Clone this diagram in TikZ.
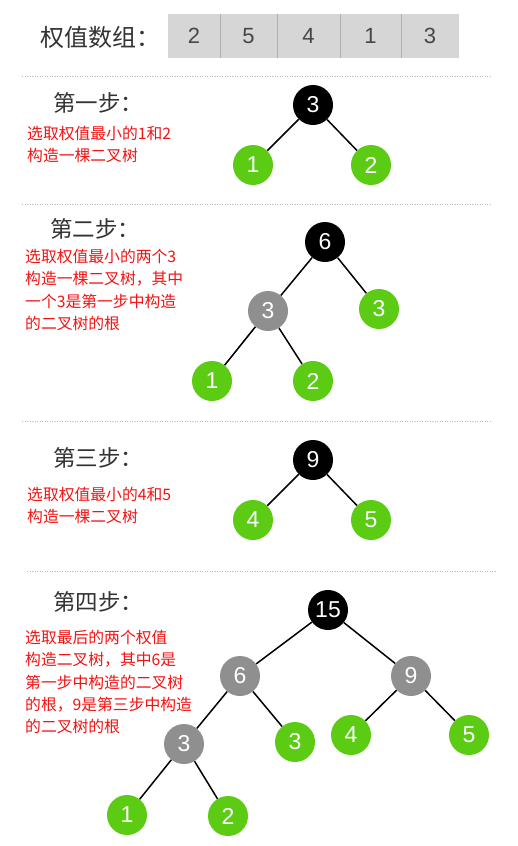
\documentclass[tikz,border=0pt]{standalone}
\usepackage{fontspec}
\setmainfont{Noto Sans CJK SC}
\newfontfamily\numfont{Liberation Sans}
\definecolor{leafgreen}{HTML}{5BCB14}
\definecolor{midgray}{HTML}{8F8F8F}
\definecolor{redtxt}{HTML}{F21313}
\definecolor{headtxt}{HTML}{333333}
\definecolor{cellgray}{HTML}{D6D6D6}
\definecolor{cellline}{HTML}{B0B0B0}
\begin{document}
\begin{tikzpicture}[x=1pt,y=-1pt,
  tnode/.style={circle,minimum size=40pt,inner sep=0pt,text=white,font=\numfont\fontsize{23}{23}\selectfont},
  leaf/.style={tnode,fill=leafgreen},
  mid/.style={tnode,fill=midgray},
  root/.style={tnode,fill=black},
  edge/.style={line width=1.5pt,black},
  sep/.style={draw=gray!55,line width=1pt,dash pattern=on 1.2pt off 1.3pt},
  head/.style={anchor=west,text=headtxt,font=\fontsize{22.5}{24}\selectfont,inner sep=0pt},
  note/.style={anchor=north west,align=left,text=redtxt,font=\fontsize{15.8}{22.3}\selectfont,inner sep=0pt},
  cell/.style={fill=cellgray,draw=none,minimum height=44pt,inner sep=0pt,text=headtxt!90,font=\numfont\fontsize{22}{22}\selectfont}
]
\useasboundingbox (0,0) rectangle (517,846);
\fill[white] (0,0) rectangle (517,846);

% array
\node[anchor=west,text=headtxt,font=\fontsize{24}{26}\selectfont,inner sep=0pt] (title) at (40,37) {权值数组：};
\node[cell,minimum width=52pt] (c1) at (194,36) {2};
\node[cell,minimum width=57pt] (c2) at (248.5,36) {5};
\node[cell,minimum width=63pt] (c3) at (308.5,36) {4};
\node[cell,minimum width=61pt] (c4) at (370.5,36) {1};
\node[cell,minimum width=58pt] (c5) at (430,36) {3};
\foreach \a/\b in {c1/c2,c2/c3,c3/c4,c4/c5}
  \draw[cellline,line width=1.2pt] (\a.north east) -- (\a.south east);

% separators
\coordinate (s1a) at (22,76); \coordinate (s1b) at (490,76);
\coordinate (s2a) at (22,204); \coordinate (s2b) at (490,204);
\coordinate (s3a) at (22,421); \coordinate (s3b) at (492,421);
\coordinate (s4a) at (27,571); \coordinate (s4b) at (497,571);
\draw[sep] (s1a) -- (s1b);
\draw[sep] (s2a) -- (s2b);
\draw[sep] (s3a) -- (s3b);
\draw[sep] (s4a) -- (s4b);

% step 1
\node[head] (h1) at (53,103) {第一步：};
\node[note] (n1) at (27,126) {选取权值最小的1和2\\构造一棵二叉树};
\node[root] (a3) at (313,105) {3};
\node[leaf] (a1) at (253,165) {1};
\node[leaf] (a2) at (371,165) {2};
\draw[edge] (a3) -- (a1);
\draw[edge] (a3) -- (a2);

% step 2
\node[head] (h2) at (50,229) {第二步：};
\node[note] (n2) at (25,249) {选取权值最小的两个3\\构造一棵二叉树，其中\\一个3是第一步中构造\\的二叉树的根};
\node[root] (b6) at (325,242) {6};
\node[mid] (b3m) at (268,311) {3};
\node[leaf] (b3) at (379,309) {3};
\node[leaf] (b1) at (212,381) {1};
\node[leaf] (b2) at (313,381) {2};
\draw[edge] (b6) -- (b3m);
\draw[edge] (b6) -- (b3);
\draw[edge] (b3m) -- (b1);
\draw[edge] (b3m) -- (b2);

% step 3
\node[head] (h3) at (53,458) {第三步：};
\node[note] (n3) at (27,487) {选取权值最小的4和5\\构造一棵二叉树};
\node[root] (c9) at (313,460) {9};
\node[leaf] (c4n) at (253,520) {4};
\node[leaf] (c5n) at (371,520) {5};
\draw[edge] (c9) -- (c4n);
\draw[edge] (c9) -- (c5n);

% step 4
\node[head] (h4) at (53,602) {第四步：};
\node[note] (n4) at (25,630) {选取最后的两个权值\\构造二叉树，其中6是\\第一步中构造的二叉树\\的根，9是第三步中构造\\的二叉树的根};
\node[root] (d15) at (328,610) {15};
\node[mid] (d6) at (240,676) {6};
\node[mid] (d9) at (411,676) {9};
\node[mid] (d3m) at (184,744) {3};
\node[leaf] (d3) at (295,742) {3};
\node[leaf] (d4) at (351,735) {4};
\node[leaf] (d5) at (469,735) {5};
\node[leaf] (d1) at (127,815) {1};
\node[leaf] (d2) at (228,816) {2};
\draw[edge] (d15) -- (d6);
\draw[edge] (d15) -- (d9);
\draw[edge] (d6) -- (d3m);
\draw[edge] (d6) -- (d3);
\draw[edge] (d9) -- (d4);
\draw[edge] (d9) -- (d5);
\draw[edge] (d3m) -- (d1);
\draw[edge] (d3m) -- (d2);
\end{tikzpicture}
\end{document}
